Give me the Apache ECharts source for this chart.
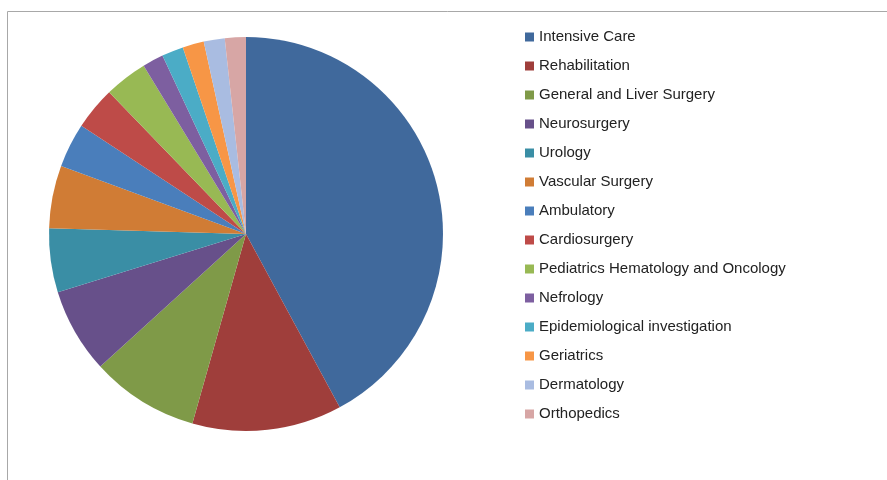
<!DOCTYPE html>
<html>
<head>
<meta charset="utf-8">
<script src="https://cdn.jsdelivr.net/npm/echarts@6/dist/echarts.min.js"></script>
<style>html,body{margin:0;padding:0;background:#fff;}#chart{width:887px;height:480px;}</style>
</head>
<body>
<div id="chart"></div>
<script>
const categories = [
  "Intensive Care", "Rehabilitation", "General and Liver Surgery", "Neurosurgery",
  "Urology", "Vascular Surgery", "Ambulatory", "Cardiosurgery",
  "Pediatrics Hematology and Oncology", "Nefrology", "Epidemiological investigation",
  "Geriatrics", "Dermatology", "Orthopedics"
];
const values = [151.6, 44.2, 31.9, 25.1, 18.9, 18.5, 13.1, 12.7, 12.7, 6.2, 6.4, 6.3, 6.2, 6.2];
const colors = [
  "#40699C", "#9F3E3B", "#7F9A48", "#67508A", "#3A8EA5", "#D07C35",
  "#4A7EBB", "#BE4B48", "#98B954", "#7D5FA0", "#4BACC6", "#F79646",
  "#A9BCE1", "#D7A6A5"
];

const chart = echarts.init(document.getElementById('chart'));
chart.setOption({
  animation: false,
  color: colors,
  graphic: [{
    type: 'rect', silent: true,
    shape: { x: 7.5, y: 11.5, width: 900, height: 500 },
    style: { fill: 'none', stroke: '#a8a8a8', lineWidth: 1 }
  }],
  legend: {
    orient: 'vertical',
    left: 520, top: 24,
    itemWidth: 9, itemHeight: 9,
    itemGap: 13,
    icon: 'rect',
    textStyle: { fontFamily: 'Liberation Sans', fontSize: 15, color: '#222', lineHeight: 16 },
    data: categories
  },
  series: [{
    type: 'pie',
    center: [246, 234],
    radius: 197,
    startAngle: 90,
    clockwise: true,
    label: { show: false },
    labelLine: { show: false },
    itemStyle: { borderWidth: 0 },
    emphasis: { disabled: true },
    data: categories.map((c, i) => ({ name: c, value: values[i] }))
  }]
});
</script>
</body>
</html>
